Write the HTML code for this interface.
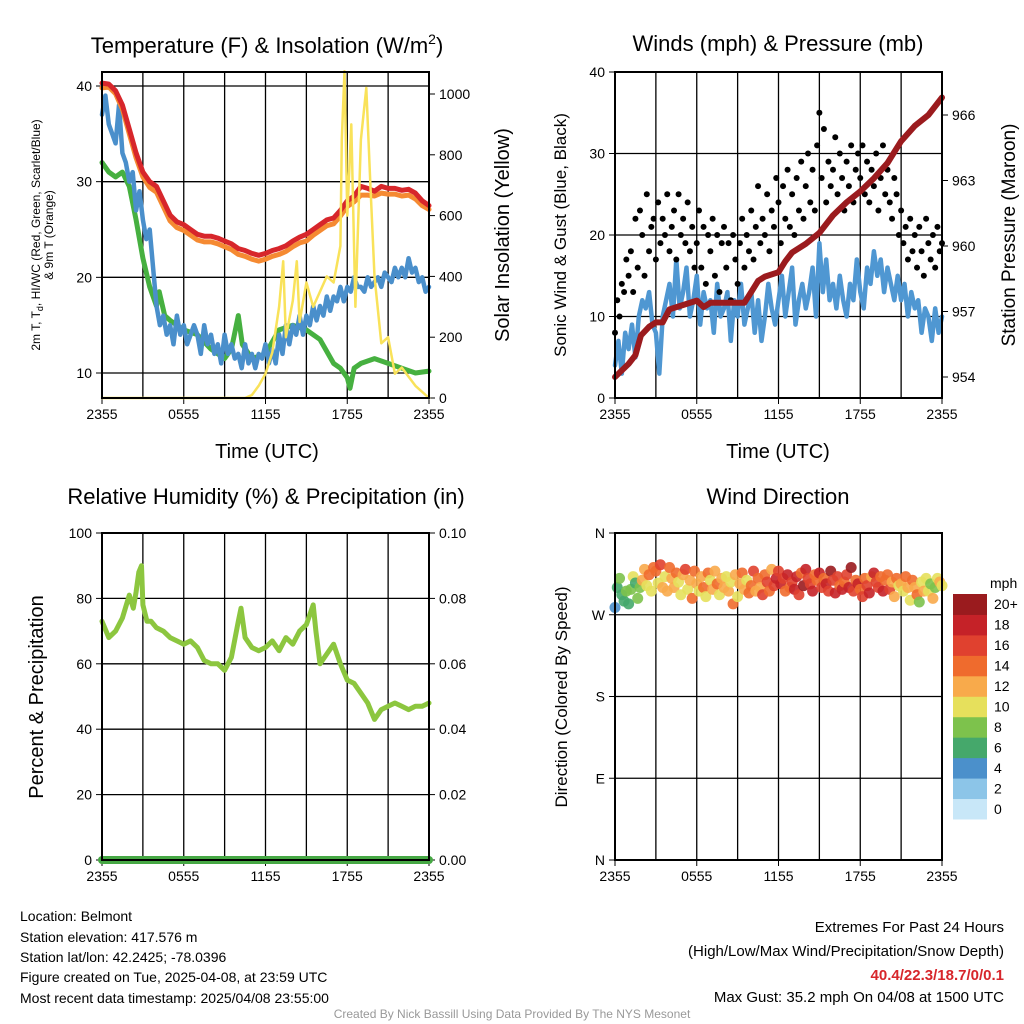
<!DOCTYPE html>
<html><head><meta charset="utf-8"><style>
html,body{margin:0;padding:0;background:#fff}
svg{display:block;font-family:"Liberation Sans",sans-serif}
</style></head><body>
<svg id="fig" width="1024" height="1024" viewBox="0 0 1024 1024">
<g font-size="22" text-anchor="middle" fill="#000">
<text x="267" y="53">Temperature (F) &amp; Insolation (W/m<tspan font-size="14" dy="-9">2</tspan><tspan dy="9">)</tspan></text>
<text x="778" y="51">Winds (mph) &amp; Pressure (mb)</text>
<text x="266" y="504">Relative Humidity (%) &amp; Precipitation (in)</text>
<text x="778" y="504">Wind Direction</text>
</g>
<g fill="#000" text-anchor="middle">
<text transform="translate(40,235) rotate(-90)" font-size="12">2m T, T<tspan font-size="9" dy="3">d</tspan><tspan dy="-3">, HI/WC (Red, Green, Scarlet/Blue)</tspan></text>
<text transform="translate(53,235) rotate(-90)" font-size="12">&amp; 9m T (Orange)</text>
<text transform="translate(509,235) rotate(-90)" font-size="20">Solar Insolation (Yellow)</text>
<text x="267" y="458" font-size="20">Time (UTC)</text>
<text transform="translate(566,235) rotate(-90)" font-size="17">Sonic Wind &amp; Gust (Blue, Black)</text>
<text transform="translate(1015,235) rotate(-90)" font-size="19">Station Pressure (Maroon)</text>
<text x="778" y="458" font-size="20">Time (UTC)</text>
<text transform="translate(43,697) rotate(-90)" font-size="20">Percent &amp; Precipitation</text>
<text transform="translate(567,697) rotate(-90)" font-size="17">Direction (Colored By Speed)</text>
</g>
<g font-size="14" fill="#000">
<text x="20" y="921">Location: Belmont</text>
<text x="20" y="942">Station elevation: 417.576 m</text>
<text x="20" y="962">Station lat/lon: 42.2425; -78.0396</text>
<text x="20" y="982">Figure created on Tue, 2025-04-08, at 23:59 UTC</text>
<text x="20" y="1003">Most recent data timestamp: 2025/04/08 23:55:00</text>
</g>
<g font-size="15" fill="#000" text-anchor="end">
<text x="1004" y="932">Extremes For Past 24 Hours</text>
<text x="1004" y="956">(High/Low/Max Wind/Precipitation/Snow Depth)</text>
<text x="1004" y="980" fill="#d7262b" font-weight="bold">40.4/22.3/18.7/0/0.1</text>
<text x="1004" y="1002">Max Gust: 35.2 mph On 04/08 at 1500 UTC</text>
</g>
<text x="512" y="1018" font-size="12" fill="#999" text-anchor="middle">Created By Nick Bassill Using Data Provided By The NYS Mesonet</text>
</svg>
<script>
// ---- data ----
const timeLabels = ["2355","0555","1155","1755","2355"];
const tempHours = [0,0.5,1,1.5,2,2.5,3,3.5,4,4.5,5,5.5,6,6.5,7,7.5,8,8.5,9,9.5,10,10.5,11,11.5,12,12.5,13,13.5,14,14.5,15,15.5,16,16.5,17,17.5,18,18.5,19,19.5,20,20.5,21,21.5,22,22.5,23,23.5,24];
const tempRed = [40.3,40.2,39.5,38,35.5,33,31,30,29.5,28,26.5,25.8,25.5,25,24.5,24.3,24.3,24.1,23.8,23.5,23,22.8,22.5,22.3,22.5,22.8,23,23.3,23.8,24.2,24.5,25,25.5,26,26.2,27,28,28.5,29.5,29.3,29,29.5,29.3,29.3,29.1,29.2,28.8,28,27.5];
const tempOrange = [39.8,39.9,39.2,37.6,35,32.5,30.5,29.4,28.9,27.4,25.9,25.2,24.9,24.4,23.9,23.7,23.7,23.5,23.2,22.9,22.4,22.2,21.9,21.7,21.9,22.2,22.4,22.7,23.2,23.6,23.8,24.4,24.9,25.4,25.6,26.4,27.4,27.9,28.6,28.6,28.5,28.8,28.7,28.7,28.5,28.6,28.2,27.5,27.1];
const tdHours = [0,0.5,1,1.5,2,2.5,3,3.5,4,4.2,4.6,5,6,7,8,9,9.5,10,10.3,11,12,13,14,15,16,17,17.5,18,18.2,18.5,19,20,21,22,23,24];
const tempGreen = [32,31,30.5,31,29.5,26,22,19,17,18.5,16,15.5,14.5,14,12.5,11.5,12.5,16,13,11.5,12,14.5,15,14.5,13.5,11,10.5,9.5,8.4,10.5,11,11.5,11,10.5,10,10.2];
const tempBlue = [37,39,36,35,34,38,33,32,30,31,27,29,26,24,25,21,17,15,16,14,15,13,16,14,15,13,14,15,14,12,15,13,14,12,13,11,14,12,13,11.5,12,10.5,13,11,12,10.5,12,11.5,13,11,12.5,11,14,12,15,13,15,14,16,14,16,15,17,15.5,17,16,18,16.5,18,17.5,19,17.5,19,18.5,20,19,19,18.5,20,19,19.5,20,19,20.5,20,19.5,21,20,21,20,22,20.5,21,19.5,20,18.5,19];
const solarHours = [0,10.5,11,11.5,12,12.5,13,13.3,13.5,14,14.3,14.5,15,15.5,16,16.5,17,17.5,17.6,17.8,18,18.3,18.6,19,19.4,19.7,20,20.5,21,21.5,22,23,24];
const solar = [0,0,10,40,80,150,300,450,200,320,450,250,380,300,350,400,380,500,850,1080,600,900,300,850,1020,700,400,180,200,80,100,40,0];
const windSpeed = [4,7,3,8,6,9,5,10,12,11,13,9,8,3,10,12,14,10,17,11,13,16,10,12,15,9,13,11,12,8,14,10,11,13,7,12,10,14,9,11,13,8,12,7,10,14,11,9,12,15,10,13,16,9,12,14,11,13,16,10,19,13,17,12,14,11,15,12,10,14,12,17,13,11,16,14,18,15,17,13,16,14,12,15,12,14,10,13,11,12,8,11,10,7,11,8,10];
const gusts = [8,12,10,14,13,17,15,18,13,22,16,23,20,15,25,18,21,22,17,24,19,22,20,25,18,21,23,17,25,20,22,19,24,18,21,16,19,23,16,21,14,20,18,22,15,20,13,19,21,16,19,12,20,17,14,19,22,16,20,18,23,17,21,26,19,22,20,25,18,23,21,27,24,19,26,22,28,21,25,20,27,23,29,22,26,30,24,28,23,31,35,27,33,24,29,26,28,32,25,30,27,23,29,26,31,24,28,30,27,31,25,29,24,28,26,30,23,27,31,25,28,24,22,27,25,20,23,19,21,17,22,18,20,16,21,18,15,22,19,17,20,16,21,18,19];
const presHours = [0,1,1.5,1.9,2.5,3,3.5,4,5,6,6.5,7,8,9,9.5,10,10.5,11,12,12.5,13,14,15,16,17,18,19,20,21,22,23,24];
const pressure = [954.0,954.6,955.0,955.9,956.3,956.5,956.5,957.1,957.3,957.5,957.2,957.4,957.4,957.4,957.4,957.9,958.4,958.6,958.8,959.3,959.7,960.1,960.6,961.4,962.0,962.5,963.1,963.8,964.8,965.5,966.0,966.8];
const rhHours = [0,0.3,0.5,1,1.5,2,2.3,2.5,2.7,2.9,3,3.3,3.6,4,4.5,5,5.5,6,6.5,7,7.5,8,8.5,9,9.5,10,10.2,10.5,11,11.5,12,12.5,13,13.5,14,14.5,15,15.5,15.7,16,16.5,17,17.5,18,18.5,19,19.5,20,20.5,21,21.5,22,22.5,23,23.5,24];
const rh = [73,70,68,70,74,81,77,82,88,90,78,73,73,71,70,68,67,66,67,65,61,60,60,58,62,73,77,68,65,64,65,67,64,68,66,70,72,78,70,60,63,66,60,55,54,51,48,43,46,47,48,47,46,47,47,48];
const windDir = [278,300,310,292,285,296,282,298,312,305,288,300,308,320,302,314,296,322,318,305,325,300,312,296,322,310,300,316,306,292,314,320,298,308,288,318,304,296,312,300,290,316,308,298,318,304,292,310,300,312,296,306,282,314,290,304,316,298,308,294,302,318,296,310,300,292,314,306,296,320,302,310,318,304,310,296,314,300,306,298,312,292,316,302,320,310,304,296,314,308,316,300,310,304,296,318,308,294,312,302,298,306,314,300,322,296,308,304,298,290,310,302,294,312,316,306,300,312,296,308,314,298,306,290,310,302,304,296,312,300,286,308,300,292,284,306,296,310,296,304,288,300,310,306,302];
const windDirSpeed = [4,6,7,5,6,8,5,7,9,6,8,7,11,12,9,13,10,14,13,10,15,12,9,11,14,12,11,13,10,9,12,15,10,11,13,14,11,10,12,13,9,14,10,12,11,13,10,12,11,9,12,10,13,11,10,12,13,11,10,14,13,15,12,14,11,16,14,16,13,12,15,17,16,18,15,13,17,14,15,17,18,16,14,19,17,15,16,18,14,13,18,16,14,17,15,19,16,18,15,13,17,14,15,17,19,16,14,18,14,16,13,15,17,12,18,15,16,13,17,14,13,15,11,12,14,10,12,10,14,11,9,13,11,13,8,10,12,9,10,8,11,7,9,12,9];
const colorTicks = ["0","2","4","6","8","10","12","14","16","18","20+"];
const colorScale = ["#c8e7f8","#8cc5e8","#4b90cb","#45a86b","#7dc24c","#e6e05c","#f8aa4b","#ef6b2d","#e0412f","#c52228","#9a1b1e"];

const NS="http://www.w3.org/2000/svg";
const svg=document.getElementById('fig');
function mk(tag,attrs,parent){const e=document.createElementNS(NS,tag);for(const k in attrs)e.setAttribute(k,attrs[k]);(parent||svg).appendChild(e);return e;}
function lin(d0,d1,r0,r1){return v=>r0+(v-d0)/(d1-d0)*(r1-r0);}

const P1={x0:102,x1:429,y0:72,y1:398}, P2={x0:615,x1:942,y0:72,y1:398};
const P3={x0:102,x1:429,y0:533,y1:860}, P4={x0:615,x1:942,y0:533,y1:860};

function frame(P,name){
  const g=mk('g',{});
  
  
  const xs=lin(0,24,P.x0,P.x1);
  for(let h=3;h<24;h+=3){const l=mk('line',{x1:xs(h),x2:xs(h),y1:P.y0,y2:P.y1,stroke:'#000','stroke-width':1.3},g);
    }
  timeLabels.forEach((t,i)=>{const x=xs(i*6);
    const tk=mk('line',{x1:x,x2:x,y1:P.y1,y2:P.y1+6,stroke:'#000','stroke-width':1},g);
    
    const tx=mk('text',{x:x,y:P.y1+21,'font-size':14,'text-anchor':'middle'},g);tx.textContent=t;
    });
  return {g,xs};
}
function border(P){const r=mk('rect',{x:P.x0,y:P.y0,width:P.x1-P.x0,height:P.y1-P.y0,fill:'none',stroke:'#000','stroke-width':2});
  }
function hgrid(P,vals,ys,labels,side,name){
  vals.forEach((v,i)=>{const y=ys(v);
    if(side==='left'&&y>P.y0+1&&y<P.y1-1){const l=mk('line',{x1:P.x0,x2:P.x1,y1:y,y2:y,stroke:'#000','stroke-width':1.3});
      }
    const xt=side==='left'?P.x0:P.x1, dx=side==='left'?-6:6;
    const tk=mk('line',{x1:xt,x2:xt+dx,y1:y,y2:y,stroke:'#000','stroke-width':1});
    
    const tx=mk('text',{x:side==='left'?P.x0-10:P.x1+10,y:y+5,'font-size':14,'text-anchor':side==='left'?'end':'start'});
    tx.textContent=labels[i];
    });
}
function path(xsF,ysF,xv,yv,stroke,w,name){
  const d=yv.map((v,i)=>(i?'L':'M')+xsF(xv[i]).toFixed(1)+' '+ysF(v).toFixed(1)).join(' ');
  const p=mk('path',{d:d,fill:'none',stroke:stroke,'stroke-width':w,'stroke-linejoin':'round','stroke-linecap':'round'});
  return p;
}
const q15=windSpeed.map((_,i)=>i*0.25), q10=gusts.map((_,i)=>i/6);

// Panel 1
const f1=frame(P1,'temperature');
const yT=lin(10,40,373,86), yS=lin(0,1000,398,94);
hgrid(P1,[10,20,30,40],yT,["10","20","30","40"],'left','temp-axis');
hgrid(P1,[0,200,400,600,800,1000],yS,["0","200","400","600","800","1000"],'right','solar-axis');
path(f1.xs,yT,tdHours,tempGreen,'#46b040',5,'dewpoint-line');
path(f1.xs,yT,q15,tempBlue,'#4a8fcb',4.5,'wind-chill-line');
path(f1.xs,yT,tempHours,tempOrange,'#f58a32',5,'temp-9m-line');
path(f1.xs,yT,tempHours,tempRed,'#d7262b',5,'temp-2m-line');
path(f1.xs,yS,solarHours,solar.map(v=>Math.min(v,1075)),'#f9e25a',2.5,'solar-line');
border(P1);

// Panel 2
const f2=frame(P2,'winds');
const yW=lin(0,40,398,72), yP=lin(954,966,377,115);
hgrid(P2,[0,10,20,30,40],yW,["0","10","20","30","40"],'left','wind-axis');
hgrid(P2,[954,957,960,963,966],yP,["954","957","960","963","966"],'right','pressure-axis');
path(f2.xs,yW,q15,windSpeed,'#4f97d2',4.5,'wind-speed-line');
gusts.forEach((g,i)=>{const c=mk('circle',{cx:f2.xs(q10[i]),cy:yW(g),r:3,fill:'#000'});
  });
path(f2.xs,yP,presHours,pressure,'#9b1b1e',6,'pressure-line');
border(P2);

// Panel 3
const f3=frame(P3,'humidity');
const yR=lin(0,100,860,533), yPr=lin(0,0.1,860,533);
hgrid(P3,[0,20,40,60,80,100],yR,["0","20","40","60","80","100"],'left','rh-axis');
hgrid(P3,[0,0.02,0.04,0.06,0.08,0.1],yPr,["0.00","0.02","0.04","0.06","0.08","0.10"],'right','precip-axis');
path(f3.xs,yR,rhHours,rh,'#8cc63f',5,'rh-line');
path(f3.xs,yPr,[0,24],[0,0],'#46a844',8,'precip-line');
border(P3);

// Panel 4
const f4=frame(P4,'wind-direction');
const yD=lin(0,360,860,533);
hgrid(P4,[0,90,180,270,360],yD,["N","E","S","W","N"],'left','dir-axis');
function colorFor(s){return colorScale[Math.min(10,Math.max(0,Math.round(s/2)))];}
windDir.forEach((d,i)=>{const c=mk('circle',{cx:f4.xs(q10[i]),cy:yD(d),r:5.5,fill:colorFor(windDirSpeed[i]),opacity:0.9});
  });
border(P4);

// Colorbar
const cb=mk('g',{});


const cbt=mk('text',{x:990,y:588,'font-size':14,'text-anchor':'start'},cb);cbt.textContent='mph';

colorTicks.forEach((t,i)=>{const h=225/11, y=819-(i+1)*h;
  const r=mk('rect',{x:953,y:y,width:34,height:h+0.5,fill:colorScale[i]},cb);
  
  const tx=mk('text',{x:994,y:y+h/2+5,'font-size':14},cb);tx.textContent=t;
  });
</script>
</body></html>
